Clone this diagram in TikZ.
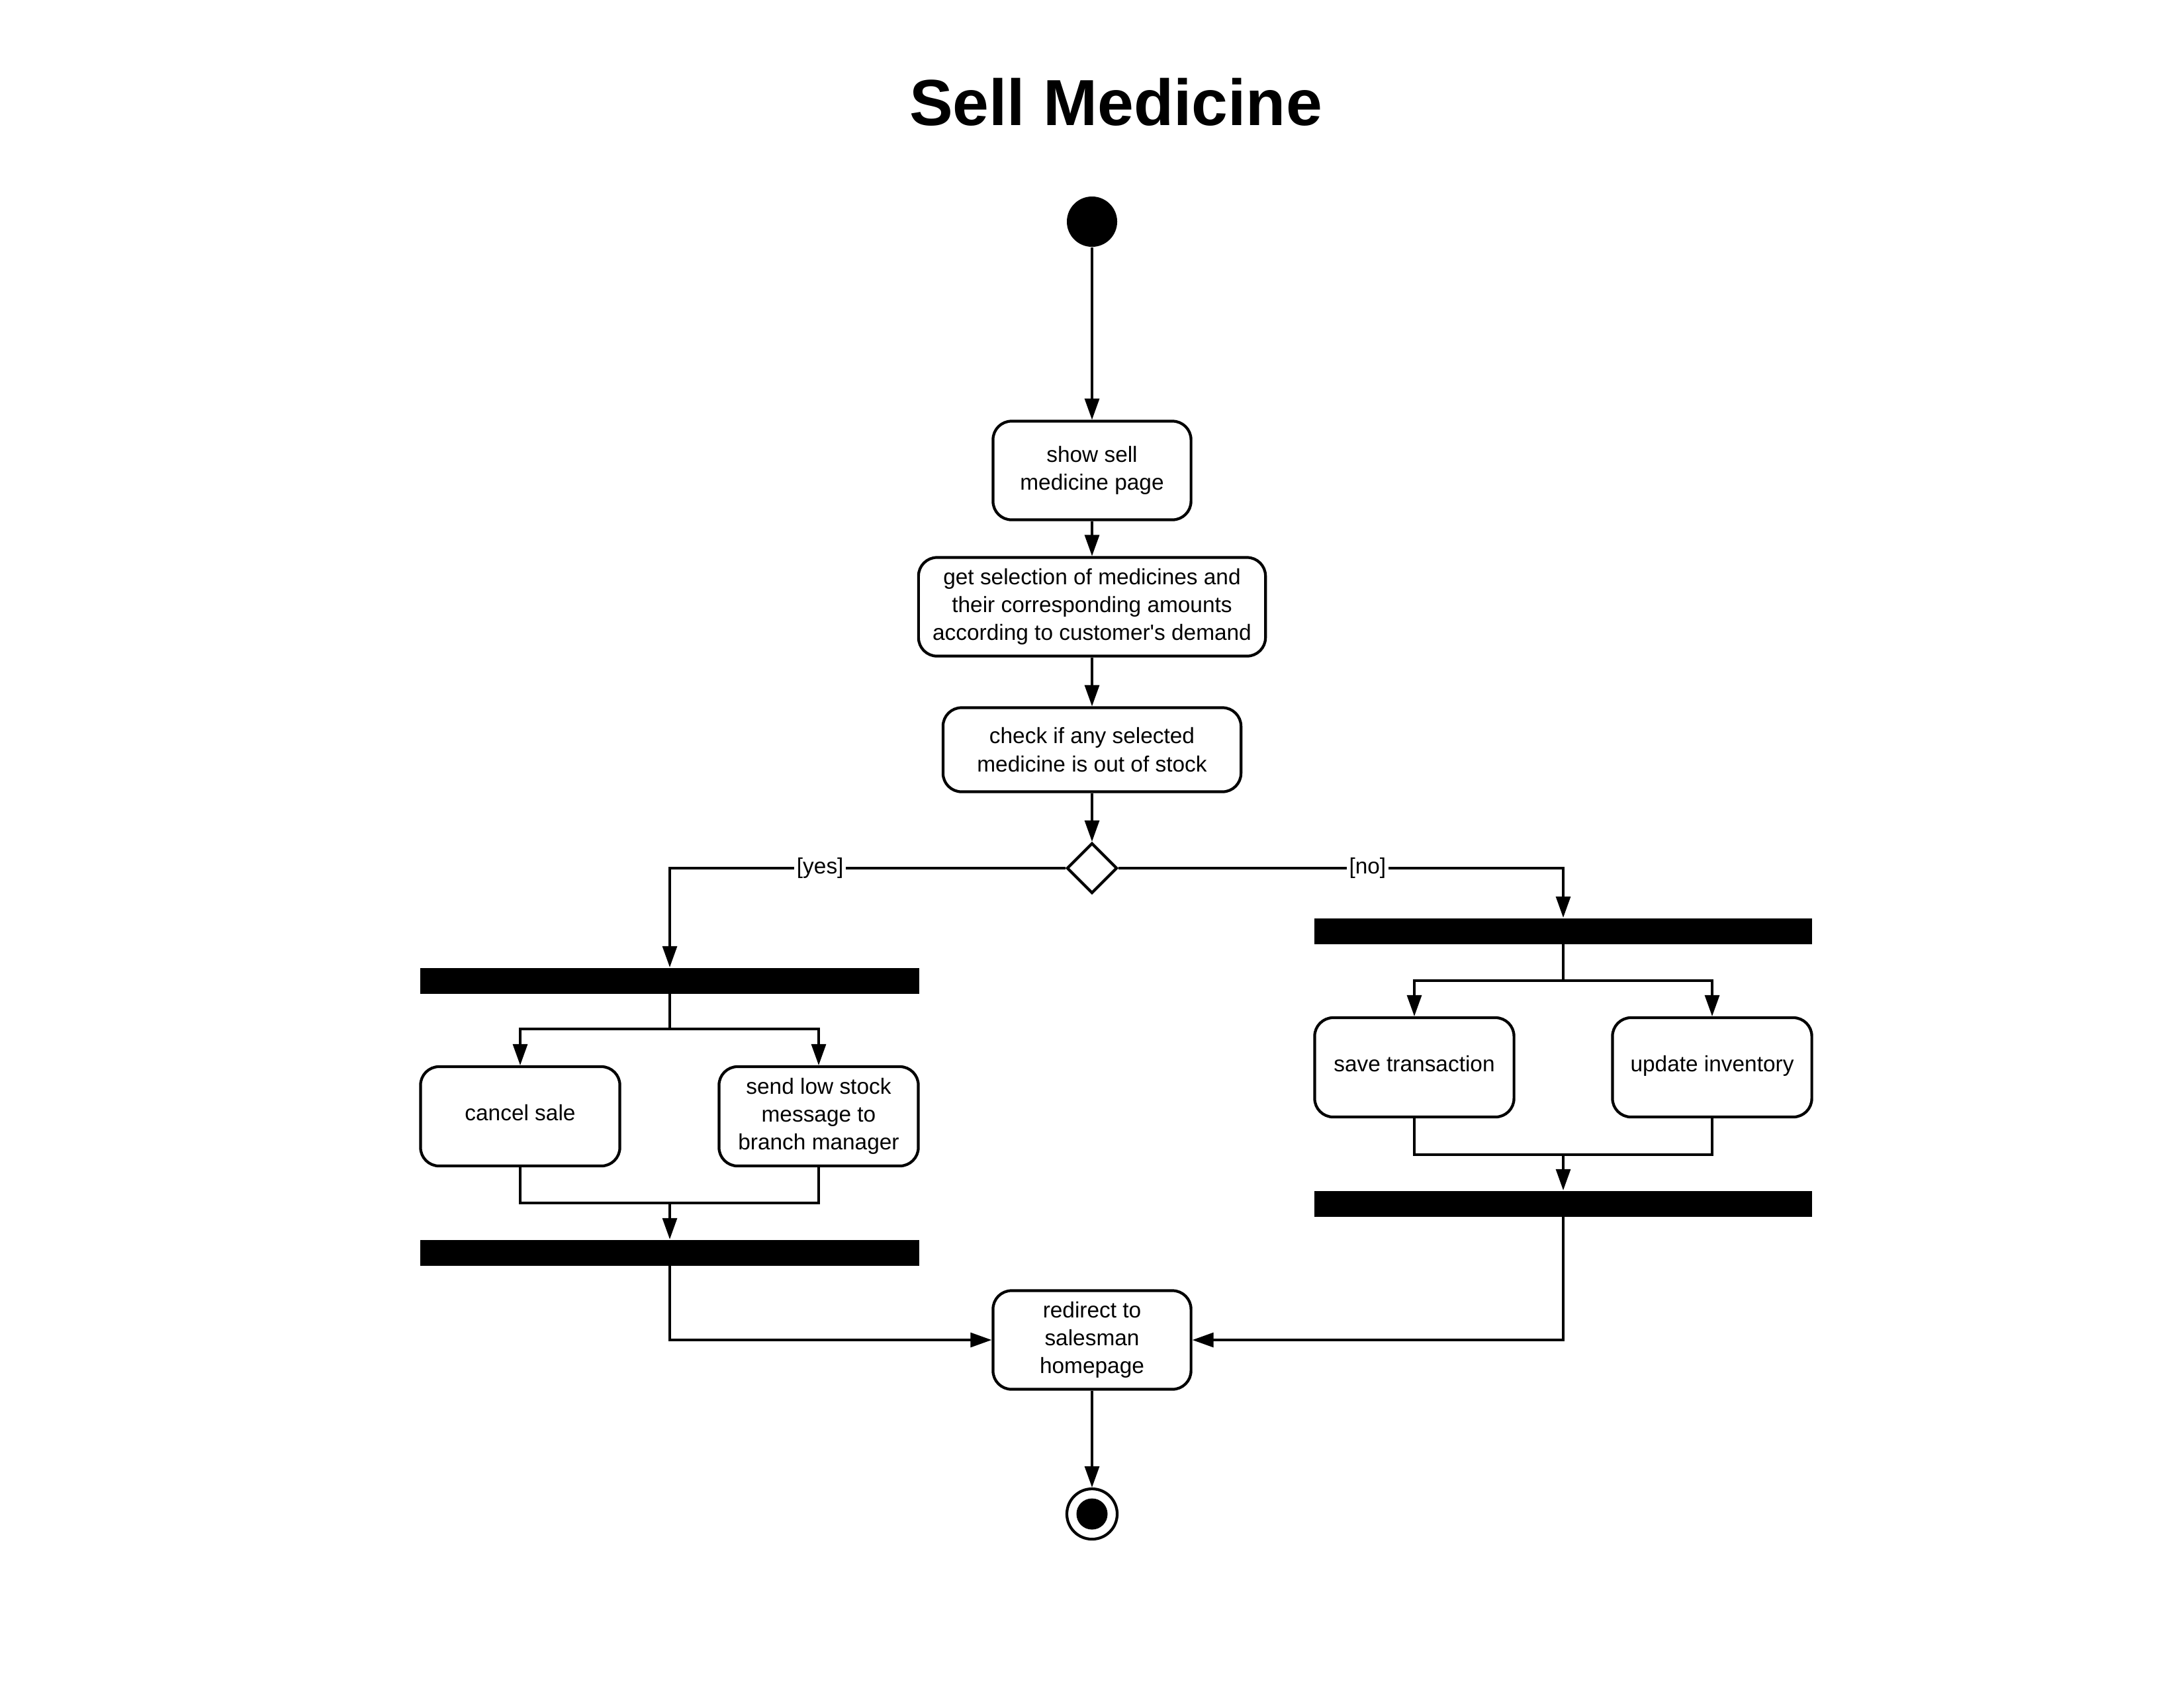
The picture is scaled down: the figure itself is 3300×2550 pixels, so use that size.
\documentclass[tikz,border=0pt]{standalone}
\usepackage{fontspec}
\setmainfont{Liberation Sans}[Ligatures=TeXOff]
\usepackage{tikz}
\usetikzlibrary{positioning, arrows.meta, shapes.geometric, calc}

\begin{document}
\begin{tikzpicture}[x=0.01cm, y=-0.01cm,
  action/.style={draw, line width=1.2pt, rounded corners=0.28cm, align=center,
    font=\fontsize{9.5}{12}\selectfont, inner sep=0pt, fill=white},
  oneline/.style={text height=1.45ex, text depth=0.8ex},
  bar/.style={fill=black, inner sep=0pt, minimum height=0.39cm},
  decision/.style={diamond, draw, line width=1.2pt, fill=white, inner sep=0pt,
    minimum width=0.76cm, minimum height=0.76cm},
  initial/.style={circle, fill=black, inner sep=0pt, minimum size=0.76cm},
  final/.style={circle, draw, line width=1.2pt, fill=white, inner sep=0pt, minimum size=0.76cm,
    path picture={\fill[black] (path picture bounding box.center) circle (0.235cm);}},
  flow/.style={line width=0.9pt, -{Triangle[length=0.32cm, width=0.22cm]}},
  link/.style={line width=0.9pt},
  guard/.style={fill=white, inner sep=1pt, font=\fontsize{9.5}{12}\selectfont}]
\useasboundingbox (0,0) rectangle (3300,2550);

% title
\node (title) at (1686,154) {\fontsize{28}{34}\selectfont\bfseries Sell Medicine};

% main column
\node[initial] (start) at (1650,335) {};
\node[action, minimum width=2.99cm, minimum height=1.49cm] (show) at (1650,711)
  {show sell\\medicine page};
\node[action, minimum width=5.24cm, minimum height=1.49cm] (select) at (1650,917)
  {get selection of medicines and\\their corresponding amounts\\according to customer's demand};
\node[action, minimum width=4.5cm, minimum height=1.27cm] (check) at (1650,1133)
  {check if any selected\\medicine is out of stock};
\node[decision] (stock) at (1650,1312) {};

% yes branch
\node[bar, minimum width=7.53cm] (yesfork) at (1012,1482) {};
\node[action, oneline, minimum width=3.01cm, minimum height=1.5cm] (cancel) at (786,1687) {cancel sale};
\node[action, minimum width=3.01cm, minimum height=1.5cm] (notify) at (1237,1687)
  {send low stock\\message to\\branch manager};
\node[bar, minimum width=7.53cm] (yesjoin) at (1012,1893) {};
\coordinate (yessplit) at (1012,1555);
\coordinate (yesmerge) at (1012,1818);

% no branch
\node[bar, minimum width=7.51cm] (nofork) at (2362,1407) {};
\node[action, oneline, minimum width=3.01cm, minimum height=1.5cm] (save) at (2137,1613) {save transaction};
\node[action, oneline, minimum width=3.01cm, minimum height=1.5cm] (update) at (2587,1613) {update inventory};
\node[bar, minimum width=7.51cm] (nojoin) at (2362,1819) {};
\coordinate (nosplit) at (2362,1482);
\coordinate (nomerge) at (2362,1745);

% end
\node[action, minimum width=2.99cm, minimum height=1.49cm] (redirect) at (1650,2025)
  {redirect to\\salesman\\homepage};
\node[final] (stop) at (1650,2288) {};

% connectors
\draw[flow] (start) -- (show);
\draw[flow] (show) -- (select);
\draw[flow] (select) -- (check);
\draw[flow] (check) -- (stock);
\draw[flow] (stock.west) -| node[guard, pos=0.31] {[yes]} (yesfork.north);
\draw[flow] (stock.east) -| node[guard, pos=0.28] {[no]} (nofork.north);

\draw[link] (yesfork.south) -- (yessplit);
\draw[flow] (yessplit) -| (cancel.north);
\draw[flow] (yessplit) -| (notify.north);
\draw[link] (cancel.south) |- (yesmerge);
\draw[link] (notify.south) |- (yesmerge);
\draw[flow] (yesmerge) -- (yesjoin.north);
\draw[flow] (yesjoin.south) |- (redirect.west);

\draw[link] (nofork.south) -- (nosplit);
\draw[flow] (nosplit) -| (save.north);
\draw[flow] (nosplit) -| (update.north);
\draw[link] (save.south) |- (nomerge);
\draw[link] (update.south) |- (nomerge);
\draw[flow] (nomerge) -- (nojoin.north);
\draw[flow] (nojoin.south) |- (redirect.east);

\draw[flow] (redirect) -- (stop);
\end{tikzpicture}
\end{document}
